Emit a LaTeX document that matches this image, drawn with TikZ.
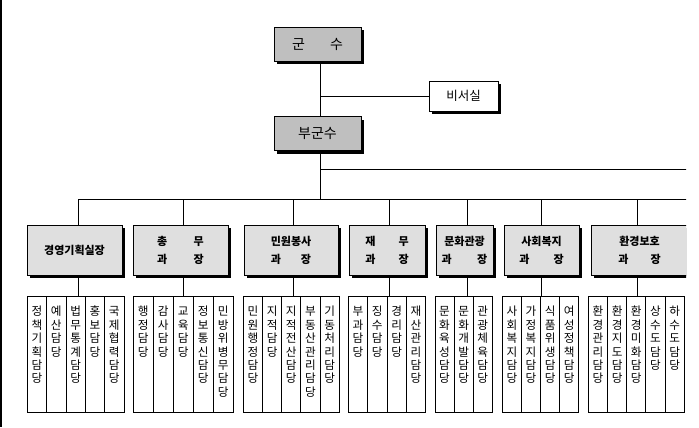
\documentclass[tikz,border=0pt]{standalone}
\usepackage{fontspec}
\setmainfont{Noto Sans CJK KR}
\usetikzlibrary{shadows}

% one character per line, top down
\def\vcharloop#1{\ifx\relax#1\else\hbox{#1}\expandafter\vcharloop\fi}
\newcommand\vchars[1]{\vtop{\baselineskip=13.4pt\vcharloop#1\relax}}

\tikzset{
  boxshade/.style={drop shadow={shadow xshift=3pt, shadow yshift=-3pt, fill=black, opacity=1}},
  topbox/.style={draw, fill=gray!50, boxshade, minimum width=87pt, minimum height=34pt, inner sep=0pt, font=\fontsize{14}{16}\selectfont},
  secbox/.style={draw, fill=white, boxshade, minimum width=69pt, minimum height=30pt, inner sep=0pt, font=\fontsize{12.5}{15}\selectfont},
  deptbox/.style={draw, fill=gray!25, boxshade, minimum height=50pt, inner sep=0pt, align=center, font=\fontsize{11}{18}\selectfont\bfseries},
  unitbox/.style={draw, fill=white, anchor=north, minimum width=#1, inner sep=0pt, text height=19.5pt, text depth=96.2pt, font=\fontsize{11.6}{13}\selectfont}
}

\begin{document}
\begin{tikzpicture}[x=1pt, y=-1pt, line width=0.9pt]

\useasboundingbox ( 0, 0 ) rectangle ( 699, 428 );

%% Left border
\draw [line width=1.5pt] ( 0.75, 0 ) -- ( 0.75, 427 );

\begin{scope}
\clip ( -1, -1 ) rectangle ( 686, 429 );

%% Top
\node [topbox] (gunsu) at ( 317.5, 44 ) {군\hspace{1.8em}수};
\node [secbox] (biseo) at ( 463.5, 96 ) {비서실};
\node [topbox] (bugunsu) at ( 317.5, 133.5 ) {부군수};

\coordinate (spine) at ( 320, 96 );
\coordinate (sideR) at ( 699, 169 );
\coordinate (busL) at ( 78, 199 );
\coordinate (busR) at ( 699, 199 );

\draw (gunsu.south -| spine) -- (bugunsu.north -| spine);
\draw (spine) -- (biseo.west);
\draw (bugunsu.south -| spine) -- (spine |- busL);
\draw (spine |- sideR) -- (sideR);
\draw (busL) -- (busR);

%% Departments
\node [deptbox, minimum width=95pt] (d1) at ( 74.5, 250 ) {경영기획실장};
\node [deptbox, minimum width=95pt] (d2) at ( 180.5, 250 ) {총\hspace{2.4em}무\\과\hspace{2.4em}장};
\node [deptbox, minimum width=94pt] (d3) at ( 291, 250 ) {민원봉사\\과\hspace{1.8em}장};
\node [deptbox, minimum width=76pt] (d4) at ( 387, 250 ) {재\hspace{2.1em}무\\과\hspace{2.1em}장};
\node [deptbox, minimum width=57pt] (d5) at ( 464.5, 250 ) {문화관광\\과\hspace{2.3em}장};
\node [deptbox, minimum width=75pt] (d6) at ( 541.5, 250 ) {사회복지\\과\hspace{2.2em}장};
\node [deptbox, minimum width=97pt] (d7) at ( 639.5, 250 ) {환경보호\\과\hspace{2em}장};

% Drops from the bus
\coordinate (t1) at ( 78, 199 );
\coordinate (t2) at ( 183, 199 );
\coordinate (t3) at ( 293, 199 );
\coordinate (t4) at ( 389, 199 );
\coordinate (t5) at ( 467, 199 );
\coordinate (t6) at ( 541, 199 );
\coordinate (t7) at ( 637, 199 );

\draw (t1) -- (t1 |- d1.north);
\draw (t2) -- (t2 |- d2.north);
\draw (t3) -- (t3 |- d3.north);
\draw (t4) -- (t4 |- d4.north);
\draw (t5) -- (t5 |- d5.north);
\draw (t6) -- (t6 |- d6.north);
\draw (t7) -- (t7 |- d7.north);

%% Units
% 경영기획실
\node [unitbox=19.34pt] (s11) at ( 37, 296 ) {\vchars{정책기획담당}};
\node [unitbox=19.34pt] (s12) at ( 56.3, 296 ) {\vchars{예산담당}};
\node [unitbox=19.34pt] (s13) at ( 75.7, 296 ) {\vchars{법무통계담당}};
\node [unitbox=19.34pt] (s14) at ( 95, 296 ) {\vchars{홍보담당}};
\node [unitbox=19.34pt] (s15) at ( 114.3, 296 ) {\vchars{국제협력담당}};

% 총무과
\node [unitbox=20pt] (s21) at ( 143.3, 296 ) {\vchars{행정담당}};
\node [unitbox=20pt] (s22) at ( 163.3, 296 ) {\vchars{감사담당}};
\node [unitbox=20pt] (s23) at ( 183.3, 296 ) {\vchars{교육담당}};
\node [unitbox=20pt] (s24) at ( 203.3, 296 ) {\vchars{정보통신담당}};
\node [unitbox=20pt] (s25) at ( 223.3, 296 ) {\vchars{민방위병무담당}};

% 민원봉사과
\node [unitbox=19.2pt] (s31) at ( 252.9, 296 ) {\vchars{민원행정담당}};
\node [unitbox=19.2pt] (s32) at ( 272.1, 296 ) {\vchars{지적담당}};
\node [unitbox=19.2pt] (s33) at ( 291.3, 296 ) {\vchars{지적전산담당}};
\node [unitbox=19.2pt] (s34) at ( 310.5, 296 ) {\vchars{부동산관리담당}};
\node [unitbox=19.2pt] (s35) at ( 329.7, 296 ) {\vchars{기동처리담당}};

% 재무과
\node [unitbox=19.35pt] (s41) at ( 358, 296 ) {\vchars{부과담당}};
\node [unitbox=19.35pt] (s42) at ( 377.3, 296 ) {\vchars{징수담당}};
\node [unitbox=19.35pt] (s43) at ( 396.7, 296 ) {\vchars{경리담당}};
\node [unitbox=19.35pt] (s44) at ( 416, 296 ) {\vchars{재산관리담당}};

% 문화관광과
\node [unitbox=19.1pt] (s51) at ( 444.5, 296 ) {\vchars{문화육성담당}};
\node [unitbox=19.1pt] (s52) at ( 463.6, 296 ) {\vchars{문화개발담당}};
\node [unitbox=19.1pt] (s53) at ( 482.7, 296 ) {\vchars{관광체육담당}};

% 사회복지과
\node [unitbox=19.1pt] (s61) at ( 511.9, 296 ) {\vchars{사회복지담당}};
\node [unitbox=19.1pt] (s62) at ( 531, 296 ) {\vchars{가정복지담당}};
\node [unitbox=19.1pt] (s63) at ( 550.1, 296 ) {\vchars{식품위생담당}};
\node [unitbox=19.1pt] (s64) at ( 569.2, 296 ) {\vchars{여성정책담당}};

% 환경보호과
\node [unitbox=19.2pt] (s71) at ( 597.9, 296 ) {\vchars{환경관리담당}};
\node [unitbox=19.2pt] (s72) at ( 617.1, 296 ) {\vchars{환경지도담당}};
\node [unitbox=19.2pt] (s73) at ( 636.3, 296 ) {\vchars{환경미화담당}};
\node [unitbox=19.2pt] (s74) at ( 655.5, 296 ) {\vchars{상수도담당}};
\node [unitbox=19.2pt] (s75) at ( 674.7, 296 ) {\vchars{하수도담당}};

% Drops to the units
\draw (t1 |- d1.south) -- (t1 |- s13.north);
\draw (t2 |- d2.south) -- (t2 |- s23.north);
\draw (t3 |- d3.south) -- (t3 |- s33.north);
\draw (t4 |- d4.south) -- (t4 |- s43.north);
\draw (t5 |- d5.south) -- (t5 |- s52.north);
\draw (t6 |- d6.south) -- (t6 |- s63.north);
\draw (t7 |- d7.south) -- (t7 |- s73.north);

\end{scope}

\end{tikzpicture}
\end{document}
